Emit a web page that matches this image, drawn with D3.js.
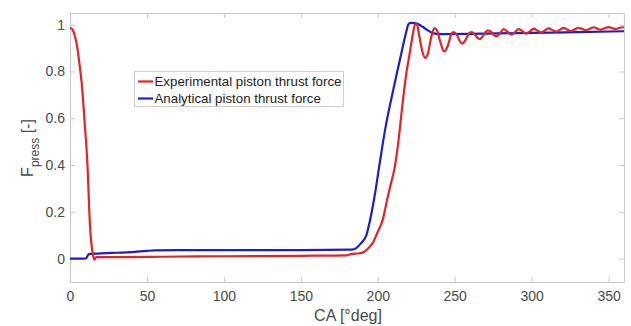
<!DOCTYPE html>
<html>
<head>
<meta charset="utf-8">
<script src="https://cdn.jsdelivr.net/npm/d3@7"></script>
<style>
  html, body { margin: 0; padding: 0; background: #fff; }
  svg { display: block; font-family: "Liberation Sans", Arial, sans-serif; }
</style>
</head>
<body>
<svg id="chart" width="631" height="326"></svg>
<script>
// ---- data ----
const xTicks = [0, 50, 100, 150, 200, 250, 300, 350];
const yTicks = [0, 0.2, 0.4, 0.6, 0.8, 1];
const yTickLabels = ["0", "0.2", "0.4", "0.6", "0.8", "1"];
const seriesNames = ["Experimental piston thrust force", "Analytical piston thrust force"];

const experimental = [
  [0, 0.985], [1, 0.984], [2, 0.975], [3, 0.955], [4.3, 0.92], [6, 0.84], [7.6, 0.75],
  [9.7, 0.565], [11.2, 0.42], [13, 0.14], [15.1, 0.01], [15.8, -0.004], [17, 0.006],
  [30, 0.006], [60, 0.008], [100, 0.01], [150, 0.012], [180, 0.014], [183, 0.02],
  [188, 0.023], [191, 0.028], [194, 0.045], [197, 0.07], [200, 0.115], [203.4, 0.17],
  [206, 0.25], [208.5, 0.32], [211, 0.39], [213, 0.48], [216.4, 0.68], [218.5, 0.79],
  [220.8, 0.88], [222.8, 0.96], [224.3, 1.003], [225.5, 1.0], [227, 0.95], [229, 0.885],
  [230.7, 0.858], [232.5, 0.875], [234.5, 0.94], [236.8, 0.985], [238.5, 0.975],
  [240.5, 0.93], [243, 0.886], [245.5, 0.91], [247.5, 0.955], [249.3, 0.968],
  [251.5, 0.955], [253.5, 0.928], [255, 0.919], [257, 0.935], [259, 0.96], [261, 0.968],
  [263, 0.958], [264.8, 0.944], [266.2, 0.939], [268.2, 0.95], [270, 0.968], [271.6, 0.976],
  [273.5, 0.97], [275.5, 0.955], [277, 0.95], [279, 0.96], [281.8, 0.981], [284, 0.972],
  [286.8, 0.957], [289, 0.967], [291.5, 0.981], [294, 0.972], [296.5, 0.962], [299, 0.972],
  [301.3, 0.983], [303.8, 0.975], [306.2, 0.966], [308.5, 0.975], [311, 0.984], [313.5, 0.977],
  [316, 0.97], [318.3, 0.978], [320.8, 0.986], [323.2, 0.979], [325.6, 0.973], [328, 0.98],
  [330.5, 0.987], [333, 0.981], [335.4, 0.976], [337.8, 0.983], [340.3, 0.989], [342.7, 0.983],
  [345, 0.979], [347.5, 0.985], [350, 0.99], [352.4, 0.985], [354.8, 0.982], [357.2, 0.987],
  [360, 0.989]
];

const analytical = [
  [0, 0.0], [9.7, 0.0], [10.8, 0.004], [11.9, 0.017], [13, 0.02], [16, 0.021], [20, 0.022],
  [30, 0.025], [40, 0.028], [50, 0.033], [55, 0.035], [70, 0.036], [100, 0.036],
  [150, 0.036], [183, 0.038], [186, 0.045], [189, 0.065], [192.6, 0.1], [195, 0.165],
  [198, 0.27], [201.3, 0.41], [205, 0.56], [210, 0.72], [213, 0.81], [216.4, 0.91],
  [218.5, 0.97], [220, 1.003], [221.5, 1.008], [225, 1.006], [227.5, 0.998], [229.4, 0.99],
  [232, 0.978], [234.5, 0.968], [237, 0.962], [240, 0.96], [260, 0.961], [300, 0.965],
  [330, 0.968], [360, 0.972]
];

// ---- layout ----
const svg = d3.select("#chart");
const L = 70, R = 624, T = 13, B = 282;
const x = d3.scaleLinear().domain([0, 360]).range([L, R]);
const y = d3.scaleLinear().domain([-0.1, 1.05]).range([B, T]);

const axisColor = "#c8c8c8";
const textColor = "#4a4a4a";

svg.append("defs").append("clipPath").attr("id", "clip")
  .append("rect").attr("x", L).attr("y", T).attr("width", R - L).attr("height", B - T);

// axes with inward ticks
const tickLen = 5;
const xAxisB = d3.axisBottom(x).tickValues(xTicks).tickSizeInner(-tickLen).tickSizeOuter(0).tickPadding(9).tickFormat(d3.format("d"));
const xAxisT = d3.axisTop(x).tickValues(xTicks).tickSizeInner(-tickLen).tickSizeOuter(0).tickFormat("");
const yAxisL = d3.axisLeft(y).tickValues(yTicks).tickSizeInner(-tickLen).tickSizeOuter(0).tickPadding(5)
  .tickFormat((d, i) => yTickLabels[i]);
const yAxisR = d3.axisRight(y).tickValues(yTicks).tickSizeInner(-tickLen).tickSizeOuter(0).tickFormat("");

function styleAxis(g) {
  g.select(".domain").attr("stroke", axisColor).attr("stroke-width", 1);
  g.selectAll(".tick line").attr("stroke", axisColor).attr("stroke-width", 1);
  g.selectAll(".tick text").attr("fill", textColor).style("font-size", "14px")
    .style("font-family", "'Liberation Sans', Arial, sans-serif");
}

svg.append("g").attr("transform", `translate(0,${B})`).call(xAxisB).call(styleAxis);
svg.append("g").attr("transform", `translate(0,${T})`).call(xAxisT).call(styleAxis);
svg.append("g").attr("transform", `translate(${L},0)`).call(yAxisL).call(styleAxis);
svg.append("g").attr("transform", `translate(${R},0)`).call(yAxisR).call(styleAxis);

// lines
const line = d3.line().x(d => x(d[0])).y(d => y(d[1])).curve(d3.curveMonotoneX);
const colors = ["#e3232a", "#1f1fbf"];
const plot = svg.append("g").attr("clip-path", "url(#clip)");
plot.append("path").datum(analytical).attr("d", line).attr("fill", "none")
  .attr("stroke", colors[1]).attr("stroke-width", 2.2).attr("stroke-linejoin", "round");
plot.append("path").datum(experimental).attr("d", line).attr("fill", "none")
  .attr("stroke", colors[0]).attr("stroke-width", 2.2).attr("stroke-linejoin", "round");

// axis labels
svg.append("text").attr("x", 348).attr("y", 321).attr("text-anchor", "middle")
  .attr("fill", textColor).style("font-size", "16px").text("CA [°deg]");

const yl = svg.append("text").attr("transform", "translate(33,148) rotate(-90)")
  .attr("text-anchor", "middle").attr("fill", textColor).style("font-size", "16px");
yl.append("tspan").text("F");
yl.append("tspan").attr("dy", 6).style("font-size", "12px").text("press");
yl.append("tspan").attr("dy", -6).text(" [-]");

// legend
const lg = svg.append("g");
lg.append("rect").attr("x", 134.5).attr("y", 71.5).attr("width", 209).attr("height", 35)
  .attr("fill", "#fff").attr("stroke", "#d0d0d0").attr("stroke-width", 1);
const rows = [81.5, 98.5];
seriesNames.forEach((name, i) => {
  lg.append("line").attr("x1", 138).attr("x2", 153).attr("y1", rows[i]).attr("y2", rows[i])
    .attr("stroke", colors[i]).attr("stroke-width", 2.2);
  lg.append("text").attr("x", 154.5).attr("y", rows[i] + 4.6).attr("fill", "#222")
    .style("font-size", "13.3px").text(name);
});
</script>
</body>
</html>
